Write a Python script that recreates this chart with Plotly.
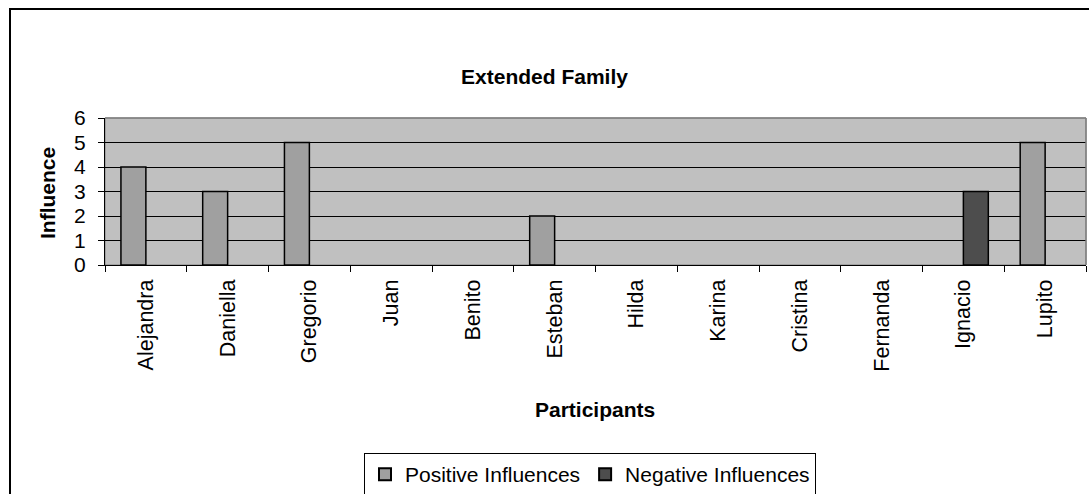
import plotly.graph_objects as go

participants = ["Alejandra", "Daniella", "Gregorio", "Juan", "Benito", "Esteban",
                "Hilda", "Karina", "Cristina", "Fernanda", "Ignacio", "Lupito"]
positive = [4, 3, 5, None, None, 2, None, None, None, None, None, 5]
negative = [None, None, None, None, None, None, None, None, None, None, 3, None]

W, H = 1089, 494
L, R, T, B = 105, 1086, 118, 265
pw, ph = R - L, B - T

def px(x):
    return (x - L) / pw

def py(y):
    return (B - y) / ph

font = "Liberation Sans, Arial, sans-serif"

fig = go.Figure()
fig.add_trace(go.Bar(x=participants, y=positive, name="Positive Influences",
                     marker=dict(color="#A0A0A0", line=dict(color="black", width=1.5))))
fig.add_trace(go.Bar(x=participants, y=negative, name="Negative Influences",
                     marker=dict(color="#4D4D4D", line=dict(color="black", width=1.5))))

fig.update_layout(
    width=W, height=H,
    margin=dict(l=L, r=W - R, t=T, b=H - B, autoexpand=False),
    paper_bgcolor="white", plot_bgcolor="#C0C0C0",
    barmode="group", bargap=0.39, bargroupgap=0,
    font=dict(family=font, color="black"),
    title=dict(text="<b>Extended Family</b>", x=0.5, xref="container", xanchor="center",
               y=1 - 77 / H, yref="container", yanchor="middle",
               font=dict(size=21, family=font, color="black")),
    showlegend=True,
    legend=dict(orientation="h", x=px(364), xanchor="left", y=py(453), yanchor="top",
                bgcolor="white", bordercolor="black", borderwidth=1,
                font=dict(size=21, family=font, color="black"),
                itemsizing="constant", traceorder="normal", itemwidth=30),
    xaxis=dict(type="category", tickson="boundaries", ticks="outside", ticklen=6,
               tickcolor="black", tickwidth=1, showline=True, linecolor="black", linewidth=1,
               tickangle=-90, tickfont=dict(size=21.5, family=font, color="black"),
               ticklabelstandoff=5, showgrid=False),
    yaxis=dict(range=[0, 6], dtick=1, ticks="outside", ticklen=6, tickcolor="black",
               showline=True, linecolor="black", linewidth=1,
               showgrid=True, gridcolor="black", gridwidth=1,
               ticklabelstandoff=8,
               tickfont=dict(size=21, family=font, color="black"), zeroline=False),
)

fig.add_shape(type="rect", xref="paper", yref="paper", x0=0, x1=1, y0=0, y1=1,
              line=dict(color="#808080", width=1), layer="below")
fig.add_shape(type="line", xref="paper", yref="paper", x0=0, x1=1, y0=1, y1=1,
              line=dict(color="#808080", width=1.5), layer="above")
fig.add_shape(type="line", xref="paper", yref="paper", x0=1, x1=1, y0=0, y1=1,
              line=dict(color="#808080", width=1.5), layer="above")
fig.add_shape(type="rect", xref="paper", yref="paper",
              x0=px(10), x1=px(1095), y0=py(510), y1=py(9),
              line=dict(color="black", width=2), layer="above")

fig.add_annotation(text="<b>Influence</b>", xref="paper", yref="paper",
                   x=px(47), y=py(193), textangle=-90, showarrow=False,
                   font=dict(size=21, family=font, color="black"),
                   xanchor="center", yanchor="middle")
fig.add_annotation(text="<b>Participants</b>", xref="paper", yref="paper",
                   x=px(595), y=py(409), showarrow=False,
                   font=dict(size=21, family=font, color="black"),
                   xanchor="center", yanchor="middle")

fig.write_html("out.html", config={"displayModeBar": False},
               post_script="document.body.style.margin='0';document.body.style.overflow='hidden';")
